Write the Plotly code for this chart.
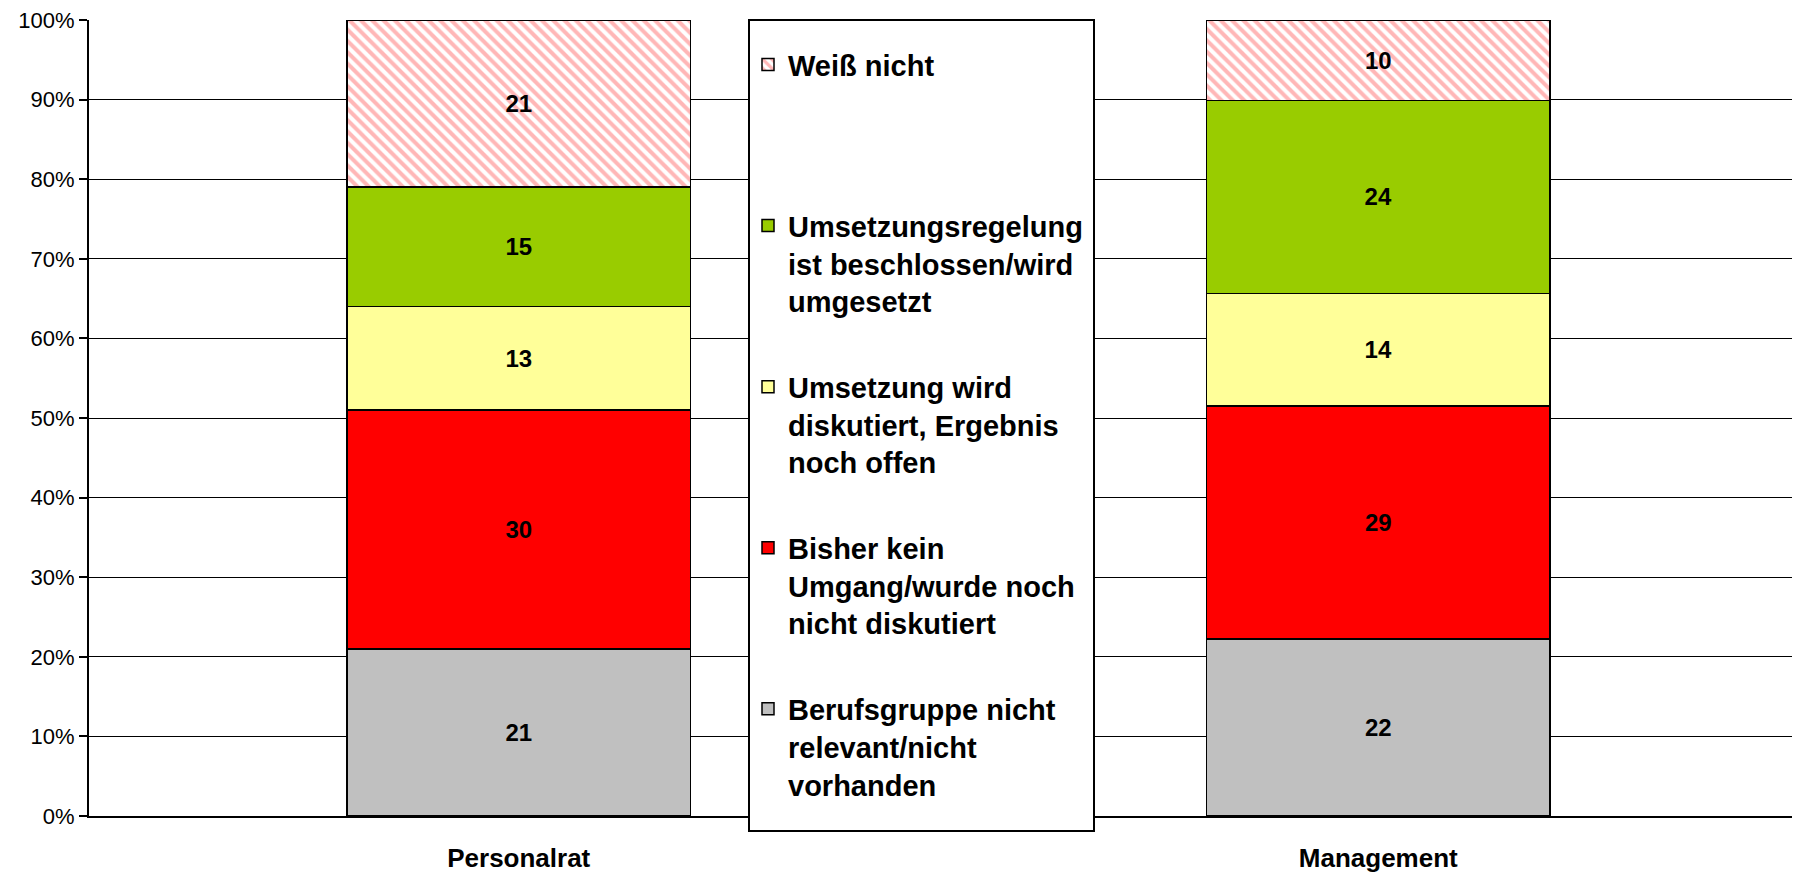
import plotly.graph_objects as go

categories = ["Personalrat", "Management"]
series_names = [
    "Berufsgruppe nicht<br>relevant/nicht<br>vorhanden",
    "Bisher kein<br>Umgang/wurde noch<br>nicht diskutiert",
    "Umsetzung wird<br>diskutiert, Ergebnis<br>noch offen",
    "Umsetzungsregelung<br>ist beschlossen/wird<br>umgesetzt",
    "Weiß nicht<br> <br> ",
]
berufsgruppe = [21, 22]
bisher_kein = [30, 29]
diskutiert = [13, 14]
beschlossen = [15, 24]
weiss_nicht = [21, 10]
y_ticks = [0, 10, 20, 30, 40, 50, 60, 70, 80, 90, 100]
y_tick_labels = ["0%", "10%", "20%", "30%", "40%", "50%", "60%", "70%", "80%", "90%", "100%"]

series_values = [berufsgruppe, bisher_kein, diskutiert, beschlossen, weiss_nicht]
colors = ["#C0C0C0", "#FF0000", "#FFFF99", "#99CC00", "#FFFFFF"]

FONT = "Liberation Sans, Arial"

# plot area (figure coords): left 81, width 1719, height 796
PW = 1800 - 81
fig = go.Figure()
for i, (name, vals, col) in enumerate(zip(series_names, series_values, colors)):
    marker = dict(color=col, line=dict(color="black", width=1.5))
    if i == 4:
        marker["pattern"] = dict(shape="\\", fgcolor="#FF7070", bgcolor="#FFFFFF",
                                 size=8, solidity=0.5, fillmode="overlay")
    fig.add_trace(go.Bar(
        x=categories, y=vals, name=name, legendgroup=f"g{i}",
        legendrank=10 - i,
        marker=marker,
        text=[str(v) for v in vals], textposition="inside",
        insidetextanchor="middle", textangle=0,
        textfont=dict(family=FONT, size=24, color="black", weight="bold"),
        constraintext="none",
    ))

fig.update_layout(
    template="none",
    barmode="stack", barnorm="percent", bargap=0.6,
    width=1800, height=875,
    margin=dict(l=81, r=0, t=12, b=67, pad=0),
    paper_bgcolor="white", plot_bgcolor="white",
    font=dict(family=FONT, color="black"),
    showlegend=True,
    legend=dict(
        x=(748 - 89) / PW, xanchor="left",
        y=0.976, yanchor="top",
        traceorder="grouped", tracegroupgap=45, valign="top",
        bgcolor="rgba(0,0,0,0)", borderwidth=0,
        font=dict(family=FONT, size=29, color="black", weight="bold"),
    ),
    shapes=[dict(type="rect", xref="paper", yref="paper",
                 x0=(749 - 89) / PW, x1=(1094 - 89) / PW,
                 y0=-(831 - 816) / 796, y1=1.0,
                 line=dict(color="black", width=2), fillcolor="white", layer="above")],
)
fig.update_xaxes(
    automargin=False,
    showline=True, linecolor="black", linewidth=2, ticks="",
    tickfont=dict(family=FONT, size=26, color="black", weight="bold"),
    ticklabelstandoff=18, showgrid=False, zeroline=False,
)
fig.update_yaxes(
    automargin=False, ticklabeloverflow="allow",
    range=[0, 100], tickmode="array", tickvals=y_ticks, ticktext=y_tick_labels,
    showline=True, linecolor="black", linewidth=2,
    ticks="outside", ticklen=8, tickwidth=1.5, tickcolor="black",
    showgrid=True, gridcolor="black", gridwidth=1,
    tickfont=dict(family=FONT, size=22, color="black"),
    zeroline=False,
)

fig.write_html("out.html")
